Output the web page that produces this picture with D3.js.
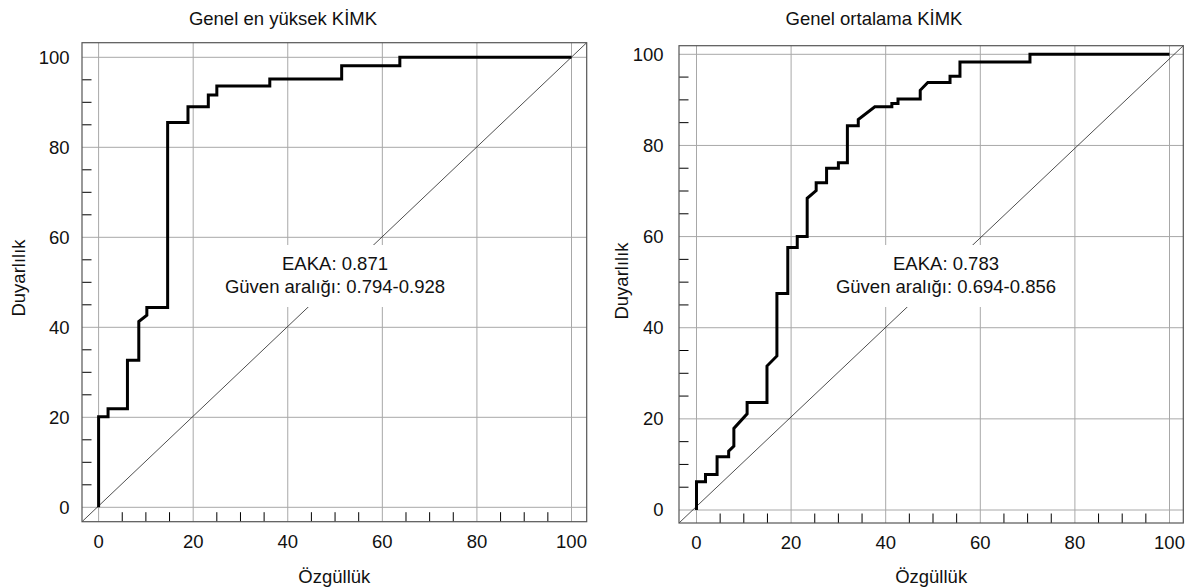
<!DOCTYPE html>
<html>
<head>
<meta charset="utf-8">
<script src="https://cdnjs.cloudflare.com/ajax/libs/d3/7.8.5/d3.min.js"></script>
<style>
  body { margin: 0; background: #fff; }
  svg text { font-family: "Liberation Sans", Arial, Helvetica, sans-serif; fill: #111; }
</style>
</head>
<body>
<svg id="chart" width="1191" height="588"></svg>
<script>
// ROC curve 1: Genel en yüksek KİMK
var leftX = [0, 0, 2.0, 2.0, 6.1, 6.1, 8.5, 8.5, 10.2, 10.2, 14.6, 14.6, 18.9, 18.9, 23.2, 23.2, 25.0, 25.0, 36.2, 36.2, 51.4, 51.4, 63.7, 63.7, 100];
var leftY = [0, 20.1, 20.1, 21.9, 21.9, 32.7, 32.7, 41.3, 42.7, 44.4, 44.4, 85.5, 85.5, 89.0, 89.0, 91.6, 91.6, 93.6, 93.6, 95.2, 95.2, 98.1, 98.1, 100, 100];

// ROC curve 2: Genel ortalama KİMK
var rightX = [0, 0, 1.9, 1.9, 4.35, 4.35, 6.8, 6.8, 7.9, 7.9, 10.7, 10.7, 14.9, 14.9, 17.0, 17.0, 19.3, 19.3, 21.3, 21.3, 23.4, 23.4, 25.3, 25.3, 27.5, 27.5, 30.0, 30.0, 31.9, 31.9, 34.2, 34.2, 37.7, 41.3, 41.3, 42.6, 42.6, 47.3, 47.3, 48.9, 53.6, 53.6, 55.7, 55.7, 70.5, 70.5, 100];
var rightY = [0, 6.2, 6.2, 7.8, 7.8, 11.7, 11.7, 12.9, 14.0, 17.9, 21.1, 23.6, 23.6, 31.6, 33.8, 47.5, 47.5, 57.6, 57.6, 60.0, 60.0, 68.4, 70.1, 71.8, 71.8, 75.0, 75.0, 76.2, 76.2, 84.3, 84.3, 85.7, 88.5, 88.5, 89.2, 89.2, 90.2, 90.2, 92.1, 93.8, 93.8, 95.2, 95.2, 98.3, 98.3, 100, 100];

var majorTicks = [0, 20, 40, 60, 80, 100];
var minorTicks = [5, 10, 15, 25, 30, 35, 45, 50, 55, 65, 70, 75, 85, 90, 95];

var titles = ["Genel en yüksek KİMK", "Genel ortalama KİMK"];
var aucText = ["EAKA: 0.871", "EAKA: 0.783"];
var ciText = ["Güven aralığı: 0.794-0.928", "Güven aralığı: 0.694-0.856"];
var xLabel = "Özgüllük";
var yLabel = "Duyarlılık";

var svg = d3.select("#chart");

function rocPanel(cfg){
	var g = svg.append("g");
	var x = d3.scaleLinear().domain([0, 100]).range(cfg.xr);
	var y = d3.scaleLinear().domain([0, 100]).range(cfg.yr);
	var f = cfg.frame; // left, right, top, bottom

	// grid
	g.selectAll(".vgrid").data(majorTicks).enter().append("line")
		.attr("x1", function(d){ return x(d); }).attr("x2", function(d){ return x(d); })
		.attr("y1", f.top).attr("y2", f.bottom)
		.attr("stroke", "#a8a8a8").attr("stroke-width", 1);
	g.selectAll(".hgrid").data(majorTicks).enter().append("line")
		.attr("x1", f.left).attr("x2", f.right)
		.attr("y1", function(d){ return y(d); }).attr("y2", function(d){ return y(d); })
		.attr("stroke", "#a8a8a8").attr("stroke-width", 1);

	// diagonal, corner to corner
	g.append("line")
		.attr("x1", f.left).attr("y1", f.bottom)
		.attr("x2", f.right).attr("y2", f.top)
		.attr("stroke", "#222").attr("stroke-width", 0.8);

	// white box behind the annotation
	g.append("rect")
		.attr("x", cfg.boxX[0]).attr("width", cfg.boxX[1] - cfg.boxX[0])
		.attr("y", 245).attr("height", 62)
		.attr("fill", "#fff");

	// minor ticks, inside the frame
	g.selectAll(".ytick").data(minorTicks).enter().append("line")
		.attr("x1", f.left).attr("x2", f.left + 9.5)
		.attr("y1", function(d){ return y(d); }).attr("y2", function(d){ return y(d); })
		.attr("stroke", "#000").attr("stroke-width", 1);
	g.selectAll(".xtick").data(minorTicks).enter().append("line")
		.attr("x1", function(d){ return x(d); }).attr("x2", function(d){ return x(d); })
		.attr("y1", f.bottom).attr("y2", f.bottom - 9.5)
		.attr("stroke", "#000").attr("stroke-width", 1);

	// frame
	g.append("rect")
		.attr("x", f.left).attr("y", f.top)
		.attr("width", f.right - f.left).attr("height", f.bottom - f.top)
		.attr("fill", "none").attr("stroke", "#555").attr("stroke-width", 1.2);

	// ROC curve
	var pts = cfg.xs.map(function(v, i){ return [v, cfg.ys[i]]; });
	var line = d3.line().x(function(d){ return x(d[0]); }).y(function(d){ return y(d[1]); });
	g.append("path").datum(pts)
		.attr("d", line)
		.attr("fill", "none").attr("stroke", "#000")
		.attr("stroke-width", 3).attr("stroke-linejoin", "miter");

	// tick labels
	g.selectAll(".ylab").data(majorTicks).enter().append("text")
		.attr("x", f.left - cfg.ylabGap).attr("y", function(d){ return y(d); })
		.attr("dy", "0.35em").attr("text-anchor", "end")
		.style("font-size", "18.5px").text(function(d){ return d; });
	g.selectAll(".xlab").data(majorTicks).enter().append("text")
		.attr("x", function(d){ return x(d); }).attr("y", f.bottom + 26)
		.attr("text-anchor", "middle")
		.style("font-size", "18.5px").text(function(d){ return d; });

	// axis titles
	g.append("text")
		.attr("x", (f.left + f.right) / 2).attr("y", 583)
		.attr("text-anchor", "middle").style("font-size", "18.5px")
		.text(xLabel);
	g.append("text")
		.attr("transform", "translate(" + cfg.yTitleX + "," + cfg.yTitleY + ") rotate(-90)")
		.attr("text-anchor", "middle").style("font-size", "18.5px")
		.text(yLabel);

	// chart title
	g.append("text")
		.attr("x", cfg.titleX).attr("y", 25)
		.attr("text-anchor", "middle").style("font-size", "18.5px")
		.text(cfg.title);

	// annotation
	g.append("text")
		.attr("x", cfg.annX).attr("y", 269.5)
		.attr("text-anchor", "middle").style("font-size", "18.5px")
		.text(cfg.auc);
	g.append("text")
		.attr("x", cfg.annX).attr("y", 292.5)
		.attr("text-anchor", "middle").style("font-size", "18.5px")
		.text(cfg.ci);
}

rocPanel({
	xs: leftX, ys: leftY,
	xr: [98.6, 571.5], yr: [507.3, 57.3],
	frame: {left: 82, right: 586.7, top: 42.7, bottom: 521.7},
	ylabGap: 12.5, yTitleX: 25, yTitleY: 278,
	titleX: 283, title: titles[0],
	annX: 335, boxX: [222, 449], auc: aucText[0], ci: ciText[0]
});

rocPanel({
	xs: rightX, ys: rightY,
	xr: [696.5, 1169.5], yr: [510, 54.3],
	frame: {left: 679, right: 1183.3, top: 45.7, bottom: 523},
	ylabGap: 15.5, yTitleX: 628, yTitleY: 281,
	titleX: 874, title: titles[1],
	annX: 946, boxX: [832, 1059], auc: aucText[1], ci: ciText[1]
});
</script>
</body>
</html>
